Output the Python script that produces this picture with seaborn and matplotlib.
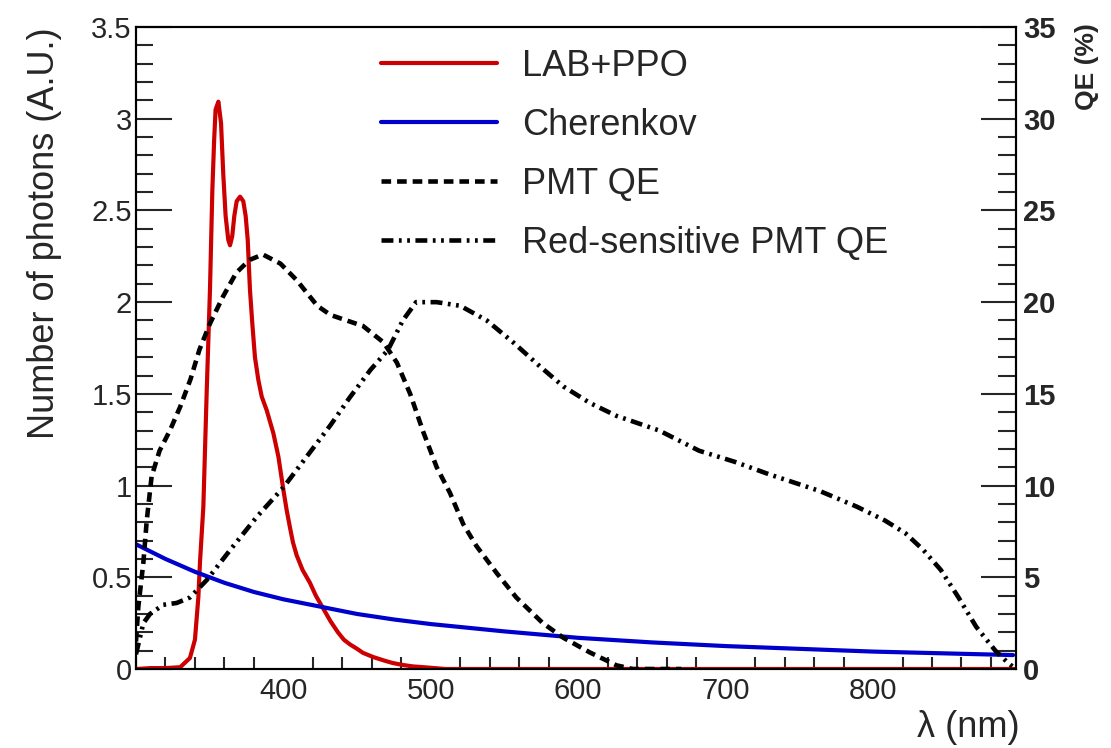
import matplotlib
matplotlib.use("Agg")
import matplotlib.pyplot as plt
import seaborn as sns
import pandas as pd
import numpy as np
from matplotlib.ticker import FixedLocator, FormatStrFormatter, MultipleLocator

# -------------------------
# data
# -------------------------
# LAB+PPO emission (left axis, A.U.)
lab_wl = [300, 310, 320, 330, 336.6, 340, 342.3, 343.4, 345.7, 348, 350.2, 351.8, 353, 354,
          355.9, 357.7, 359.2, 360.8, 362.6, 363.8, 365.3, 366.7, 368.3, 370.6, 372.8, 374.4,
          375.8, 377.3, 378.9, 380.7, 383, 385.3, 388.7, 393.2, 396.6, 400, 402.2, 404.5, 406.5,
          409, 413, 418, 422, 427, 432, 437, 441, 445, 450, 454, 461, 468, 474, 481, 488, 495,
          510, 900]
lab_val = [0.0, 0.005, 0.005, 0.01, 0.06, 0.16, 0.39, 0.58, 0.885, 1.52, 2.07, 2.61, 2.88, 3.05,
           3.093, 2.975, 2.70, 2.47, 2.34, 2.31, 2.36, 2.47, 2.55, 2.575, 2.55, 2.47,
           2.34, 2.07, 1.885, 1.70, 1.576, 1.485, 1.41, 1.285, 1.158, 0.976, 0.867, 0.77, 0.69,
           0.62, 0.54, 0.47, 0.40, 0.33, 0.26, 0.2, 0.16, 0.135, 0.11, 0.088, 0.065, 0.047, 0.033,
           0.022, 0.014, 0.01, 0.0, 0.0]

# Cherenkov spectrum (left axis, A.U.)
cher_wl = [300, 320, 340, 360, 380, 400, 425, 450, 475, 500, 550, 600, 650, 700, 750, 800, 850, 895]
cher_val = [0.68, 0.60, 0.53, 0.47, 0.42, 0.38, 0.34, 0.30, 0.27, 0.245, 0.205, 0.17,
            0.145, 0.125, 0.11, 0.095, 0.085, 0.076]

# PMT QE (right axis, %)
qe_wl = [300, 301.6, 305, 307.3, 310.6, 316, 323, 330, 337, 343, 350, 359, 368, 377, 386,
         398, 409, 423, 432, 454, 468, 477, 486, 495, 504, 513, 522, 531, 545, 558, 576,
         590, 608, 626, 637, 670]
qe_val = [1.5, 3.4, 5.8, 8.1, 10.5, 11.9, 13.0, 14.3, 15.8, 17.4, 18.8, 20.3, 21.6, 22.3, 22.6,
          22.1, 21.2, 19.8, 19.3, 18.7, 17.8, 16.7, 15.0, 12.9, 11.0, 9.6, 7.9, 6.7, 5.2, 3.9, 2.5,
          1.7, 0.9, 0.2, 0.0, 0.0]

# red-sensitive PMT QE (right axis, %)
rqe_wl = [300, 305, 309.5, 318.5, 327.6, 336.6, 348, 364, 382, 400, 416, 432, 445, 459, 471,
          481, 490, 504, 520, 538, 556, 574, 590, 608, 626, 655, 682, 706, 730, 764, 789, 808,
          822, 834, 846, 858, 870, 883, 892, 897]
rqe_val = [0.8, 2.5, 3.0, 3.5, 3.6, 3.9, 4.85, 6.5, 8.3, 9.9, 11.6, 13.3, 14.8, 16.3, 17.4,
           19.0, 20.0, 20.0, 19.8, 19.0, 17.8, 16.5, 15.4, 14.5, 13.8, 13.0, 11.9, 11.3, 10.6, 9.7,
           8.85, 8.1, 7.4, 6.5, 5.4, 3.9, 2.3, 1.0, 0.3, 0.0]

labels = ["LAB+PPO", "Cherenkov", "PMT QE", "Red-sensitive PMT QE"]

sns.set_theme(style="white")
plt.rcParams['font.family'] = ['Liberation Sans', 'DejaVu Sans']

fig = plt.figure(figsize=(11.11, 7.48), dpi=100)
ax = fig.add_axes([0.1224, 0.1056, 0.7921, 0.8583])
ax2 = ax.twinx()

sns.lineplot(x=lab_wl, y=lab_val, ax=ax, color="#cc0000", linewidth=3.0, label=labels[0], legend=False)
sns.lineplot(x=cher_wl, y=cher_val, ax=ax, color="#0000cc", linewidth=3.0, label=labels[1], legend=False)
sns.lineplot(x=qe_wl, y=qe_val, ax=ax2, color="black", linewidth=3.3, label=labels[2], legend=False)
sns.lineplot(x=rqe_wl, y=rqe_val, ax=ax2, color="black", linewidth=3.3, label=labels[3], legend=False)
ax2.lines[0].set_dashes((2.1, 1.3))
ax2.lines[1].set_dashes((2.6, 1.2, 0.6, 1.2, 0.6, 1.2))
for ln in ax.lines + ax2.lines:
    ln.set_solid_joinstyle('round')

ax.set_xlim(300, 897)
ax.set_ylim(0, 3.5)
ax2.set_ylim(0, 35)

# ticks, ROOT-like (inside)
ax.xaxis.set_major_locator(FixedLocator([400, 500, 600, 700, 800]))
ax.xaxis.set_minor_locator(MultipleLocator(20))
ax.yaxis.set_major_locator(MultipleLocator(0.5))
ax.yaxis.set_minor_locator(MultipleLocator(0.1))
ax.yaxis.set_major_formatter(FormatStrFormatter('%g'))
ax2.yaxis.set_major_locator(MultipleLocator(5))
ax2.yaxis.set_minor_locator(MultipleLocator(1))

ax.tick_params(axis='x', which='major', direction='in', length=19, width=1.5, labelsize=21, pad=6, top=False)
ax.tick_params(axis='x', which='minor', direction='in', length=9, width=1.5, top=False, bottom=True)
ax.tick_params(axis='y', which='major', direction='in', length=26, width=1.5, labelsize=21, pad=3, right=False)
ax.tick_params(axis='y', which='minor', direction='in', length=12, width=1.5, right=False, left=True)
ax2.tick_params(axis='y', which='major', direction='in', length=25, width=1.5, labelsize=21, pad=5, left=False)
ax2.tick_params(axis='y', which='minor', direction='in', length=13, width=1.5, left=False, right=True)
for t in ax2.get_yticklabels():
    t.set_fontweight('bold')

for a in (ax, ax2):
    for s in a.spines.values():
        s.set_linewidth(1.5)
        s.set_color("black")

ax.set_xlabel("λ (nm)", fontsize=26, loc='right')
ax.xaxis.set_label_coords(1.0045, -0.064)
ax.set_ylabel("Number of photons (A.U.)", fontsize=26, loc='top')
ax.yaxis.set_label_coords(-0.084, 1.0)
ax2.set_ylabel("QE (%)", fontsize=19, fontweight='bold', loc='top')
ax2.yaxis.set_label_coords(1.067, 1.006)

handles = ax.lines[:2] + ax2.lines[:2]
ax2.legend(handles, labels, loc='upper left', bbox_to_anchor=(381 / 1111, 1 - 49 / 748),
           bbox_transform=fig.transFigure, frameon=False, fontsize=26, handlelength=3.2,
           handletextpad=0.7, labelspacing=0.66, borderpad=0, borderaxespad=0)

fig.savefig("out.png", dpi=100)
